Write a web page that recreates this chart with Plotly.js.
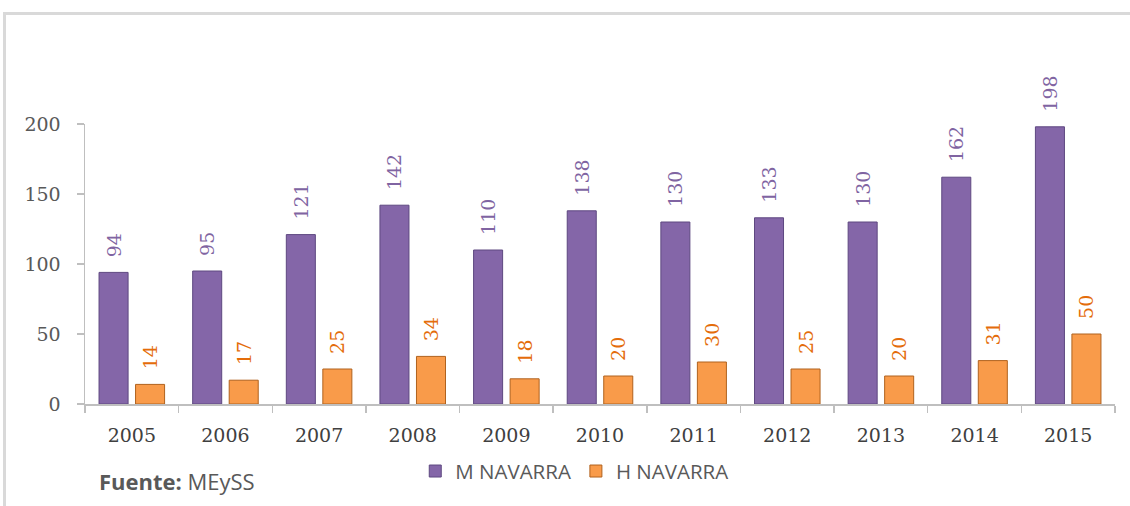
<!DOCTYPE html>
<html>
<head>
<meta charset="utf-8">
<script src="https://cdn.plot.ly/plotly-3.0.1.min.js"></script>
<style>
html,body{margin:0;padding:0;background:#fff;overflow:hidden;}
#frame{position:absolute;left:3px;top:12px;width:1140px;height:520px;border-top:3px solid #D9D9D9;border-left:3px solid #D9D9D9;}
#chart{position:absolute;left:0;top:0;width:1130px;height:506px;}
</style>
</head>
<body>
<div id="frame"></div>
<div id="chart"></div>
<script>
const years = ['2005','2006','2007','2008','2009','2010','2011','2012','2013','2014','2015'];
const mNavarra = [94, 95, 121, 142, 110, 138, 130, 133, 130, 162, 198];
const hNavarra = [14, 17, 25, 34, 18, 20, 30, 25, 20, 31, 50];
const seriesNames = ['M NAVARRA', 'H NAVARRA'];

const pad = '\u00a0\u00a0';
const labelFont = 'DejaVu Serif, serif';
const sansFont = 'Open Sans, Noto Sans, sans-serif';

const traces = [
  {
    type: 'bar', name: seriesNames[0], x: years, y: mNavarra,
    marker: {color: '#8466A8', line: {color: '#5E4880', width: 1}},
    texttemplate: pad + '%{y}', textposition: 'outside', textangle: -90,
    constraintext: 'none',
    textfont: {family: labelFont, size: 19, color: '#8064A2'},
    cliponaxis: false, hoverinfo: 'x+y'
  },
  {
    type: 'bar', name: seriesNames[1], x: years, y: hNavarra,
    marker: {color: '#F99B4A', line: {color: '#B0621E', width: 1}},
    texttemplate: pad + '%{y}', textposition: 'outside', textangle: -90,
    constraintext: 'none',
    textfont: {family: labelFont, size: 19, color: '#E46C0A'},
    cliponaxis: false, hoverinfo: 'x+y'
  }
];

const layout = {
  width: 1130, height: 506,
  margin: {l: 85, r: 15, t: 124, b: 102},
  paper_bgcolor: 'rgba(0,0,0,0)',
  plot_bgcolor: 'rgba(0,0,0,0)',
  barmode: 'group',
  bargap: 0.22,
  bargroupgap: 0.205,
  showlegend: true,
  legend: {
    orientation: 'h', x: 0.475, xanchor: 'center', y: -0.24, yanchor: 'middle',
    font: {family: sansFont, size: 20.5, color: '#595959'},
    itemclick: false, traceorder: 'normal', itemwidth: 30
  },
  xaxis: {
    type: 'category',
    showline: true, linecolor: '#BFBFBF', linewidth: 1.5,
    ticks: 'outside', tickson: 'boundaries', ticklen: 7, tickcolor: '#BFBFBF', tickwidth: 1.5,
    ticklabelstandoff: 14,
    tickfont: {family: labelFont, size: 19, color: '#404040'},
    showgrid: false, zeroline: false, fixedrange: true
  },
  yaxis: {
    range: [0, 200],
    tickvals: [0, 50, 100, 150, 200],
    showline: true, linecolor: '#BFBFBF', linewidth: 1.5,
    ticks: 'outside', ticklen: 7, tickcolor: '#BFBFBF', tickwidth: 1.5,
    ticklabelstandoff: 12,
    tickfont: {family: labelFont, size: 19, color: '#595959'},
    showgrid: false, zeroline: false, fixedrange: true
  },
  annotations: [
    {
      xref: 'paper', yref: 'paper', x: 0.0117, y: -0.275, xanchor: 'left', yanchor: 'middle',
      showarrow: false,
      text: '<b>Fuente:</b> MEySS',
      font: {family: sansFont, size: 22, color: '#595959'}
    }
  ]
};

Plotly.newPlot('chart', traces, layout, {displayModeBar: false, staticPlot: true});
</script>
</body>
</html>
